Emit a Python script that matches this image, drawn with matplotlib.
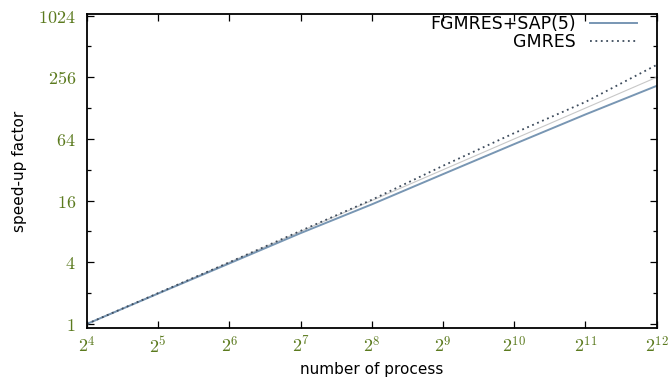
import math
import matplotlib
matplotlib.use("Agg")
import matplotlib.pyplot as plt
from matplotlib.ticker import FixedLocator, FuncFormatter, NullFormatter

procs = [16, 32, 64, 128, 256, 512, 1024, 2048, 4096]
fgmres_sap = [1, 1.98, 3.9, 7.7, 14.7, 29.0, 57.0, 111.0, 211.0]
gmres = [1, 2.0, 4.0, 8.1, 16.3, 35.0, 73.0, 147.0, 338.0]
ideal = [1, 2, 4, 8, 16, 32, 64, 128, 256]

x_ticks = [16, 32, 64, 128, 256, 512, 1024, 2048, 4096]
y_major = [1, 4, 16, 64, 256, 1024]
y_minor = [2, 8, 32, 128, 512]

tick_color = '#5b7a1e'
plt.rcParams['mathtext.fontset'] = 'cm'

fig = plt.figure(figsize=(6.71, 3.80), dpi=100)
ax = fig.add_axes([0.1297, 0.137, 0.849, 0.826])

ax.plot(procs, ideal, color='#c8c8c8', lw=0.8, ls='-')
ax.plot(procs, fgmres_sap, color='#7896b3', lw=1.4, label='FGMRES+SAP(5)')
ax.plot(procs, gmres, color='#3d4b5c', lw=1.3, ls=(0, (1, 2)), label='GMRES')

ax.set_xscale('log', base=2)
ax.set_yscale('log', base=2)
ax.set_xlim(16, 4096)
ax.set_ylim(0.913, 1060)

ax.xaxis.set_major_locator(FixedLocator(x_ticks))
ax.xaxis.set_minor_locator(FixedLocator([]))
ax.xaxis.set_major_formatter(FuncFormatter(lambda v, p: r'$2^{%d}$' % round(math.log2(v))))
ax.xaxis.set_minor_formatter(NullFormatter())
ax.yaxis.set_major_locator(FixedLocator(y_major))
ax.yaxis.set_minor_locator(FixedLocator(y_minor))
ax.yaxis.set_major_formatter(FuncFormatter(lambda v, p: r'$\mathrm{%d}$' % round(v)))
ax.yaxis.set_minor_formatter(NullFormatter())

ax.tick_params(axis='both', which='both', direction='in', top=True, right=True,
               colors='black', labelcolor=tick_color, labelsize=13, width=0.9)
ax.tick_params(axis='both', which='major', length=5)
ax.tick_params(axis='y', which='minor', length=3)
ax.tick_params(axis='x', which='major', pad=6)
ax.tick_params(axis='y', which='major', pad=8)

for s in ax.spines.values():
    s.set_linewidth(1.3)

ax.set_xlabel('number of process', fontsize=11, labelpad=4)
ax.set_ylabel('speed-up factor', fontsize=11, labelpad=8)

leg = ax.legend(loc='upper right', frameon=False, markerfirst=False, fontsize=12.5,
                handlelength=2.7, handletextpad=0.8, borderaxespad=0.1, labelspacing=0.0,
                bbox_to_anchor=(0.98, 1.025))
for t in leg.get_texts():
    t.set_ha('right')

fig.savefig('out.png', dpi=100)
